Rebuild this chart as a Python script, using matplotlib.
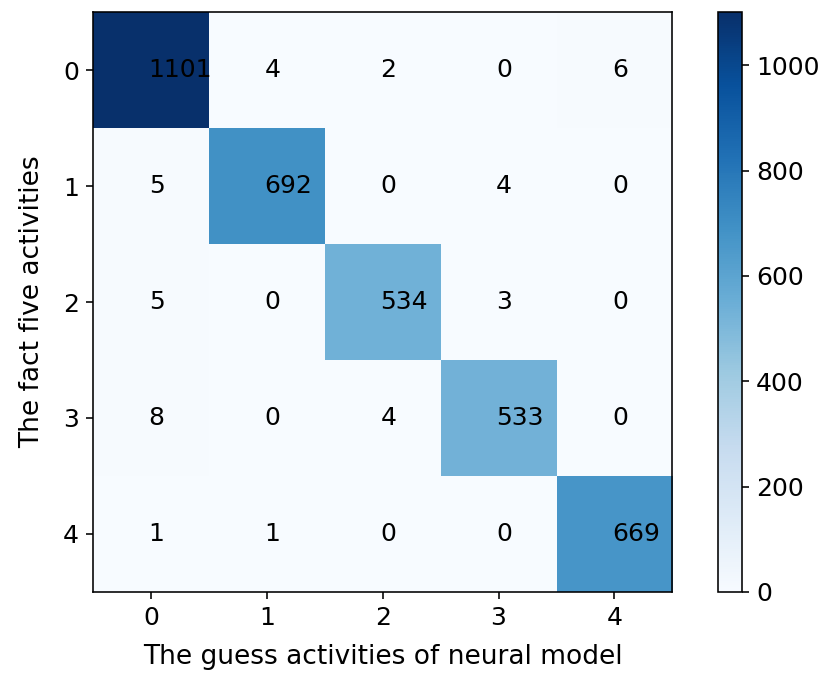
import numpy as np
import matplotlib
matplotlib.use('Agg')
import matplotlib.pyplot as plt

# confusion matrix values
labels = ['0', '1', '2', '3', '4']
row0 = [1101, 4, 2, 0, 6]
row1 = [5, 692, 0, 4, 0]
row2 = [5, 0, 534, 3, 0]
row3 = [8, 0, 4, 533, 0]
row4 = [1, 1, 0, 0, 669]
cm = np.array([row0, row1, row2, row3, row4])

plt.rcParams['font.size'] = 12.5

fig = plt.figure(figsize=(831 / 144, 678 / 144), dpi=144)
ax = fig.add_axes([0.112, 0.127, 0.697, 0.855])
cax = fig.add_axes([0.864, 0.127, 0.029, 0.855])

im = ax.imshow(cm, interpolation='nearest', cmap=plt.cm.Blues)
fig.colorbar(im, cax=cax)

ax.set_xticks(range(len(labels)))
ax.set_xticklabels(labels)
ax.set_yticks(range(len(labels)))
ax.set_yticklabels(labels)

for i in range(cm.shape[0]):
    for j in range(cm.shape[1]):
        ax.text(j - 0.02, i, str(cm[i, j]), va='center', color='black', fontsize=12.5)

ax.set_ylabel('The fact five activities', fontsize=13.2, labelpad=9)
ax.set_xlabel('The guess activities of neural model', fontsize=13.2, labelpad=7)

fig.savefig('out.png', dpi=144)
